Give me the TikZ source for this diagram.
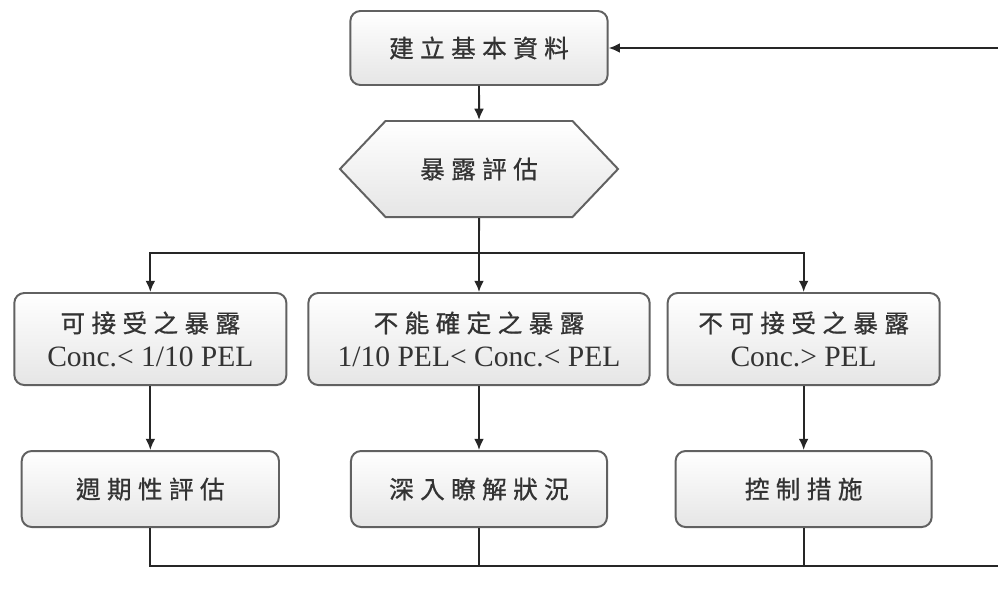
\documentclass[tikz,border=0pt]{standalone}
\usepackage{fontspec}
\setmainfont{Liberation Serif}
\newfontfamily\cjkfont[LetterSpace=26, FakeBold=0.8]{Noto Sans CJK TC}
\newcommand{\zh}[1]{{\cjkfont\fontsize{17.5pt}{24pt}\selectfont #1}}
\usepackage{tikz}
\usetikzlibrary{positioning, shapes.symbols, arrows.meta}

\begin{document}
\begin{tikzpicture}[x=0.025cm, y=-0.025cm, >={Latex[length=8pt,width=7pt]}, line width=1.4pt,
    box/.style={draw=black!62, rounded corners=0.25cm, top color=white, bottom color=black!10,
                text=black!80, align=center, inner sep=2pt,
                font=\fontsize{21pt}{24pt}\selectfont},
    hexa/.style={draw=black!62, signal, signal to=west and east, signal pointer angle=93,
                 top color=white, bottom color=black!10, text=black!80,
                 minimum width=6.95cm, minimum height=2.4cm},
    link/.style={draw=black!85}]
    \useasboundingbox (0,0) rectangle (998,612);
    \clip (0,0) rectangle (998,612);

    % Define the step nodes
    \node (base) [box, minimum width=6.43cm, minimum height=1.85cm] at (479,48) {\zh{建立基本資料}};  % Start
    \node (assess) [hexa, below=0.85cm of base] {\zh{暴露評估}};  % Decision
    \node (unk) [box, minimum width=8.53cm, minimum height=2.3cm, below=1.85cm of assess]
        {\zh{不能確定之暴露}\\1/10 PEL< Conc.< PEL};
    \node (acc) [box, minimum width=6.8cm, minimum height=2.3cm, left=0.5cm of unk]
        {\zh{可接受之暴露}\\Conc.< 1/10 PEL};
    \node (unacc) [box, minimum width=6.8cm, minimum height=2.3cm, right=0.4cm of unk]
        {\zh{不可接受之暴露}\\Conc.> PEL};
    \node (per) [box, minimum width=6.43cm, minimum height=1.9cm, below=1.6cm of acc] {\zh{週期性評估}};
    \node (deep) [box, minimum width=6.4cm, minimum height=1.9cm, below=1.6cm of unk] {\zh{深入瞭解狀況}};
    \node (ctrl) [box, minimum width=6.4cm, minimum height=1.9cm, below=1.6cm of unacc] {\zh{控制措施}};

    % Helper points for the split and the return loop
    \coordinate (split) at ([yshift=-0.875cm]assess.south);
    \coordinate (loopy) at (0,566);
    \coordinate (edge) at (1006,0);

    % Define arrows
    \draw[link, ->] (base) -- (assess);
    \draw[link] (assess) -- (split);
    \draw[link, ->] (split) -| (acc);
    \draw[link, ->] (split) -| (unacc);
    \draw[link, ->] (split) -- (unk);
    \draw[link, ->] (acc) -- (per);
    \draw[link, ->] (unk) -- (deep);
    \draw[link, ->] (unacc) -- (ctrl);

    % Return loop back to the start
    \draw[link, ->] (per) |- (edge |- loopy) |- (base);
    \draw[link] (deep) -- (deep |- loopy);
    \draw[link] (ctrl) -- (ctrl |- loopy);
\end{tikzpicture}
\end{document}
